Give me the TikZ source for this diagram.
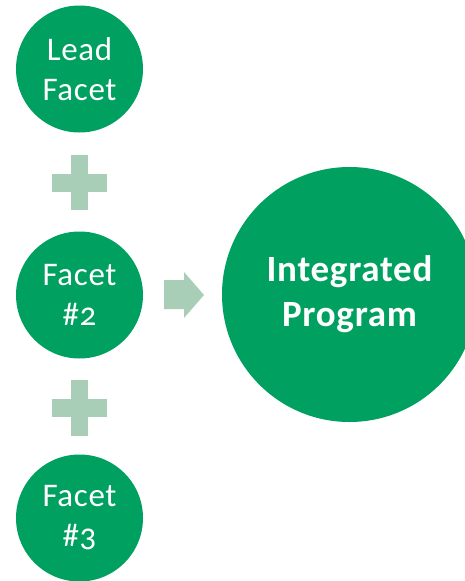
\documentclass[tikz,border=0pt]{standalone}
\usepackage{fontspec}
\setmainfont{Carlito}[Numbers=OldStyle,LetterSpace=2]

\begin{document}
\begin{tikzpicture}[x=1pt,y=-1pt,
	facet/.style={circle,fill=darkgreen,text=white,inner sep=0pt,
		minimum size=127pt,align=center,font=\fontsize{33}{40}\selectfont},
	program/.style={circle,fill=darkgreen,text=white,inner sep=0pt,
		minimum size=255pt,align=center,font=\bfseries\fontsize{37}{45}\selectfont}]
	\definecolor{darkgreen}{RGB}{0, 161, 96}
	\definecolor{lightgreen}{RGB}{169, 206, 184}

	\useasboundingbox (0,0) rectangle (465,581);

	\node[facet] (lead) at (79.5,69) {Lead\\Facet};
	\node[facet] (facet2) at (79.5,295) {Facet\\\#2};
	\node[facet] (facet3) at (79.5,518) {Facet\\\#3};
	\node[program] (integrated) at (349.5,294.5) {Integrated\\Program};

	% plus signs
	\fill [color=lightgreen] (52,174) rectangle (107,192);
	\fill [color=lightgreen] (71,155) rectangle (88,210);
	\fill [color=lightgreen] (52,399) rectangle (107,417);
	\fill [color=lightgreen] (71,380) rectangle (88,436);

	% arrow
	\fill [color=lightgreen] (164,280) -- (184,280) -- (184,272) -- (204,295)
		-- (184,318) -- (184,309) -- (164,309) -- cycle;
\end{tikzpicture}
\end{document}
